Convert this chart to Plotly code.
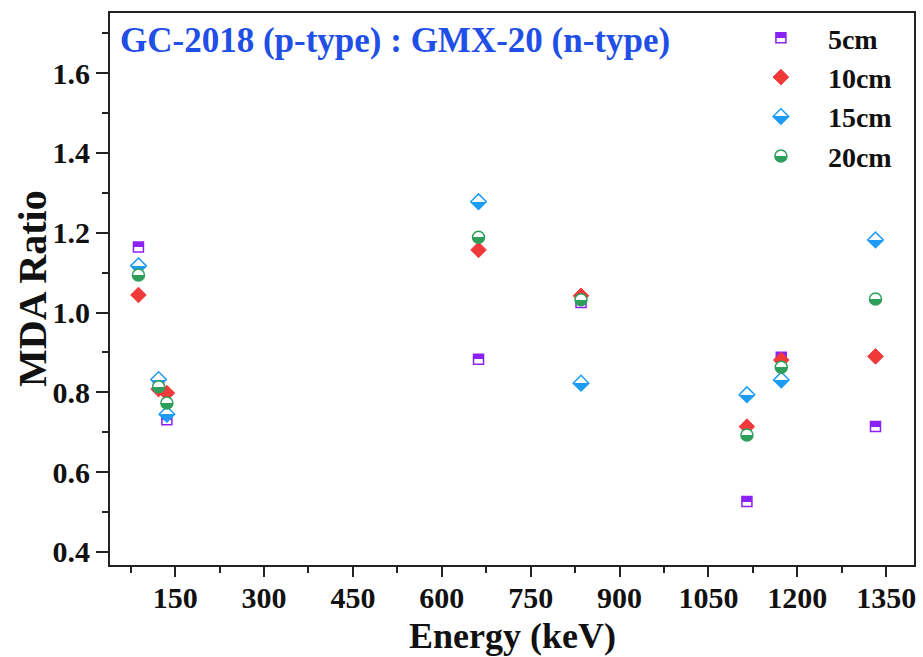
import plotly.graph_objects as go

energy_kev = [88, 122, 136, 662, 835, 1115, 1173, 1332]
ratio_5cm = [1.164, 0.815, 0.731, 0.883, 1.025, 0.526, 0.888, 0.714]
ratio_10cm = [1.044, 0.808, 0.798, 1.157, 1.042, 0.714, 0.881, 0.890]
ratio_15cm = [1.117, 0.832, 0.745, 1.278, 0.823, 0.794, 0.831, 1.182]
ratio_20cm = [1.094, 0.814, 0.773, 1.189, 1.032, 0.693, 0.863, 1.034]

series_names = ["5cm", "10cm", "15cm", "20cm"]
x_ticks = [150, 300, 450, 600, 750, 900, 1050, 1200, 1350]
y_ticks = [0.4, 0.6, 0.8, 1.0, 1.2, 1.4, 1.6]

FONT = "Liberation Serif"
PURPLE = "#8B22F5"
RED = "#F03A3A"
BLUE = "#1E9CF5"
GREEN = "#2E9E5B"

W, H = 923, 657
ML, MR, MT, MB = 110, 9, 13, 92
PW, PH = W - ML - MR, H - MT - MB

fig = go.Figure()

styles = [
    (ratio_5cm, dict(symbol="square", size=10, color=PURPLE,
                     gradient=dict(type="vertical", color="white"),
                     line=dict(color=PURPLE, width=1.5))),
    (ratio_10cm, dict(symbol="diamond", size=12, color=RED,
                      line=dict(color=RED, width=1))),
    (ratio_15cm, dict(symbol="diamond", size=12, color="white",
                      gradient=dict(type="vertical", color=BLUE),
                      line=dict(color=BLUE, width=1.5))),
    (ratio_20cm, dict(symbol="circle", size=12, color="white",
                      gradient=dict(type="vertical", color=GREEN),
                      line=dict(color=GREEN, width=1.5))),
]

for name, (vals, mk) in zip(series_names, styles):
    fig.add_trace(go.Scatter(x=energy_kev, y=vals, mode="markers",
                             name=name, marker=mk))

axis_common = dict(
    showgrid=False, zeroline=False, showline=True, linecolor="#222",
    linewidth=2, mirror=True, ticks="outside", tickcolor="#222",
    tickwidth=2, automargin=False,
    tickfont=dict(family=FONT, size=30, color="#111", weight="bold"),
)

fig.update_layout(
    width=W, height=H,
    margin=dict(l=ML, r=MR, t=MT, b=MB),
    paper_bgcolor="white", plot_bgcolor="white",
    xaxis=dict(
        range=[40, 1397], tickvals=x_ticks, ticklen=10, ticklabelstandoff=-5,
        minor=dict(dtick=75, tick0=0, ticks="outside", ticklen=6,
                   tickcolor="#222", tickwidth=2),
        **axis_common,
    ),
    yaxis=dict(
        range=[0.367, 1.751], tickvals=y_ticks, tickformat=".1f", ticklen=12,
        minor=dict(dtick=0.1, tick0=0, ticks="outside", ticklen=6,
                   tickcolor="#222", tickwidth=2),
        **axis_common,
    ),
    legend=dict(
        x=0.776, y=1.0, xanchor="left", yanchor="top",
        bgcolor="rgba(0,0,0,0)", itemwidth=84,
        font=dict(family=FONT, size=28, color="#111", weight="bold"),
    ),
    annotations=[
        dict(
            text="GC-2018 (p-type) : GMX-20 (n-type)",
            xref="paper", yref="paper", x=8 / PW, y=1 - 27 / PH,
            xanchor="left", yanchor="middle", showarrow=False,
            font=dict(family=FONT, size=35, color="#1F4FE6", weight="bold"),
        ),
        dict(
            text="Energy (keV)",
            xref="paper", yref="paper", x=0.5, y=-MB / PH,
            xanchor="center", yanchor="bottom", showarrow=False,
            borderpad=0,
            font=dict(family=FONT, size=36, color="#111", weight="bold"),
        ),
        dict(
            text="MDA Ratio",
            xref="paper", yref="paper", x=(32 - ML) / PW, y=0.5,
            xanchor="center", yanchor="middle", showarrow=False,
            textangle=-90, borderpad=0,
            font=dict(family=FONT, size=40, color="#111", weight="bold"),
        ),
    ],
)

# turn the two-stop marker gradients into crisp half fills
half_fill = (
    "document.querySelectorAll('linearGradient stop')"
    ".forEach(function(s){s.setAttribute('offset','50%');});"
)

fig.write_html("out.html", post_script=half_fill)
